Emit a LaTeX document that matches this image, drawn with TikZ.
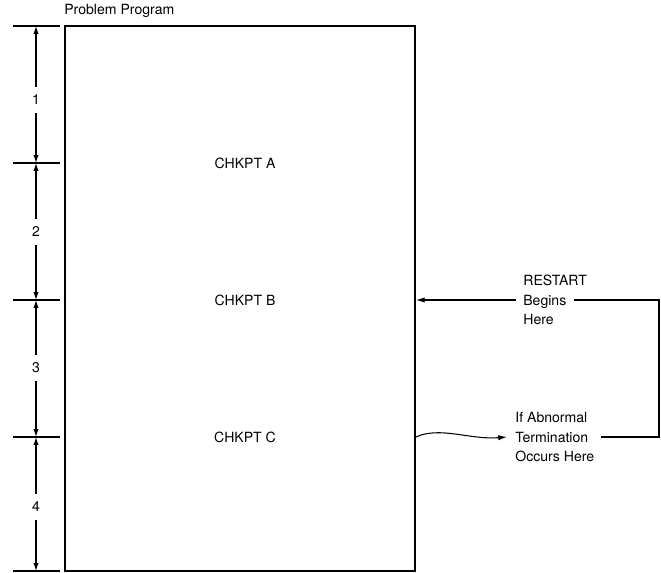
\documentclass[tikz,border=0pt]{standalone}
\usepackage{fontspec}
\setmainfont{TeX Gyre Heros}
\usetikzlibrary{arrows.meta,positioning}

\tikzset{
  lbl/.style={font=\fontsize{8}{10}\selectfont, inner sep=0pt},
  dimtick/.style={line width=0.6pt},
  dimarrow/.style={line width=0.6pt, -{Latex[length=4.5pt,width=3pt]}},
  flow/.style={line width=0.6pt},
}

\begin{document}
\begin{tikzpicture}[x=0.02cm, y=-0.02cm]

\useasboundingbox (0,0) rectangle (661,573);

% Program box
\node[draw, line width=1pt, minimum width=7cm, minimum height=10.9cm, inner sep=0pt] (prog) at (240,298.5) {};
\node[lbl, anchor=base west] (title) at (64,15) {Problem Program};

% Checkpoints
\node[lbl] (chka) at (245,163) {CHKPT A};
\node[lbl] (chkb) at (245,300) {CHKPT B};
\node[lbl] (chkc) at (245,437) {CHKPT C};

% Dimension ticks
\foreach \y [count=\i from 0] in {26,163,300,437,571} {
  \draw[dimtick] (13,\y) -- (60,\y);
  \coordinate (d\i) at (36,\y);
}

% Segment labels with arrows
\foreach \y/\n [count=\i from 0] in {100/1,232/2,368/3,507/4} {
  \pgfmathtruncatemacro{\j}{\i+1}
  \node[lbl, minimum height=0.5cm] (seg\n) at (36,\y) {\n};
  \draw[dimarrow] (seg\n) -- (d\i);
  \draw[dimarrow] (seg\n) -- (d\j);
}

% Restart
\node[lbl, anchor=west, align=left] (restart) at (523,300) {RESTART\\[1pt]Begins\\[1pt]Here};
\coordinate (rgap) at (574,300);
\coordinate (rcorner) at (659,300);
\coordinate (tcorner) at (659,437);
\coordinate (tgap) at (601,437);
\draw[flow, -{Latex[length=5pt,width=3pt]}] (restart.west) ++(-7,0) -- (prog.east |- chkb);

% Abnormal termination
\node[lbl, anchor=west, align=left] (abn) at (515,437) {If Abnormal\\[1pt]Termination\\[1pt]Occurs Here};
\draw[flow] (tgap) -- (tcorner) -- (rcorner) -- (rgap);
\draw[flow, -{Latex[length=5pt,width=3pt]}] (prog.east |- chkc) .. controls (440,426) and (470,440) .. ([xshift=-0.16cm]abn.west);

\end{tikzpicture}
\end{document}
